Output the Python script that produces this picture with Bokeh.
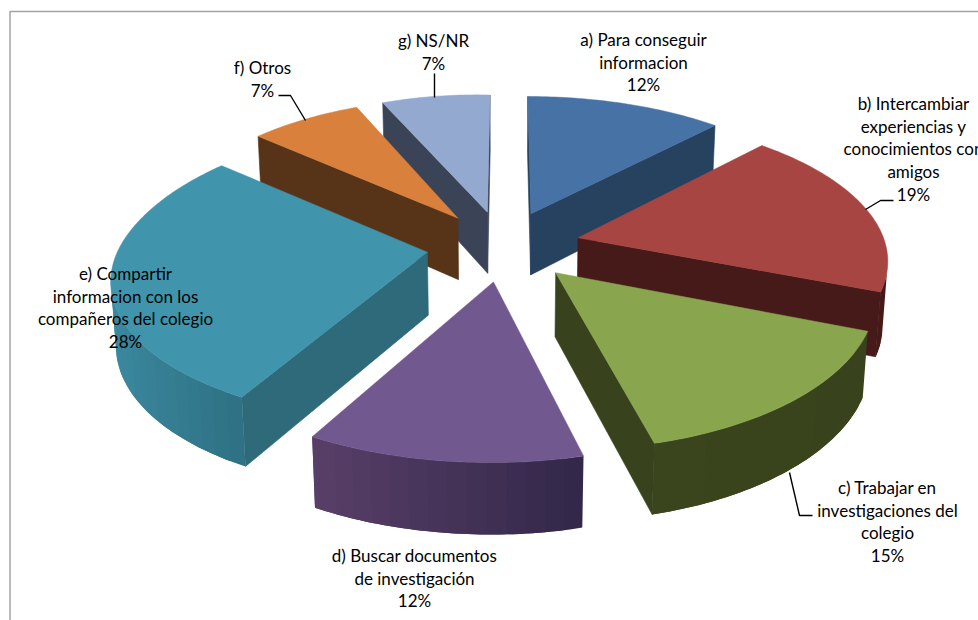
import math
from bokeh.plotting import figure
from bokeh.models import Range1d
from bokeh.core.properties import value
from bokeh.embed import file_html
from bokeh.resources import INLINE

# ---- data ----
names = [
    ["a) Para conseguir", "informacion"],
    ["b) Intercambiar", "experiencias y", "conocimientos con", "amigos"],
    ["c) Trabajar en", "investigaciones del", "colegio"],
    ["d) Buscar documentos", "de investigación"],
    ["e) Compartir", "informacion con los", "compañeros del colegio"],
    ["f) Otros"],
    ["g) NS/NR"],
]
percent = [12, 19, 15, 12, 28, 7, 7]

# ---- styles ----
top_colors = ["#4672A6", "#A64542", "#89A54E", "#71588F", "#4095AD", "#D8803C", "#93A9CF"]
side_colors = ["#27425F", "#451A19", "#38431D", "#3A2C50", "#2E6A7A", "#573318", "#3B4356"]
arc_left = ["#27425F", "#451A19", "#3A451D", "#5A4069", "#3D8CA2", "#573318", "#3B4356"]
arc_right = ["#27425F", "#451A19", "#38431D", "#33284A", "#2F7286", "#573318", "#3B4356"]
draw_order = [6, 0, 5, 1, 4, 2, 3]

# ---- projection parameters ----
CX, CY, SX, SY = 503.0, 245.0, 307.7, 141.0
PERSP, EXPLODE, WALL, SHRINK = 0.135, 0.25, 63.5, 0.013
SKEW_X, SKEW_Y, FRONT, FRONT_X = 13.0, 4.5, 3.5, 9.0

# ---- label layout: centre x, first line y ----
label_pos = [(643, 39), (913, 103), (887, 487), (414, 555), (125, 273), (262, 67), (433, 40)]
LINE_H = 22.7
leaders = [
    ([278, 290, 305], [95, 95, 120]),
    ([434, 434], [73, 97]),
    ([865, 880, 893], [209, 200, 200]),
    ([789, 799, 812], [472, 515, 515]),
]


def project(x, y, bottom=False):
    w = 1 + PERSP * y + (SHRINK if bottom else 0)
    sx = CX + SX * x / w + SKEW_X * max(0, -x) * max(0, y) - FRONT_X * max(0, -x) * max(0, -y)
    sy = CY - SY * y / w + SKEW_Y * min(0, x) * max(0, y) + FRONT * min(0, y) ** 2
    if bottom:
        sy += WALL / w
    return sx, sy


def mix(c1, c2, t):
    a = [int(c1[i:i + 2], 16) for i in (1, 3, 5)]
    b = [int(c2[i:i + 2], 16) for i in (1, 3, 5)]
    return "#%02x%02x%02x" % tuple(round(p + (q - p) * t) for p, q in zip(a, b))


def quad(p1, p2):
    a, b = project(*p1), project(*p2)
    c, d = project(*p2, True), project(*p1, True)
    return [a[0], b[0], c[0], d[0]], [a[1], b[1], c[1], d[1]]


def area(xs, ys):
    return sum(xs[i] * ys[(i + 1) % len(xs)] - xs[(i + 1) % len(xs)] * ys[i] for i in range(len(xs)))


total = sum(percent)
starts = [sum(percent[:i]) / total * 360 for i in range(len(percent))]

p = figure(width=978, height=620, output_backend="svg", toolbar_location=None,
           x_range=Range1d(0, 978), y_range=Range1d(620, 0),
           x_axis_location=None, y_axis_location=None, min_border=0, tools="")
p.grid.visible = False
p.outline_line_color = None
p.background_fill_color = "#ffffff"
p.border_fill_color = "#ffffff"

# frame
p.line([9.5, 9.5, 978], [620, 11, 11], line_color="#A3A3A3", line_width=1.5)

for i in draw_order:
    a0 = math.radians(starts[i])
    a1 = math.radians(starts[i] + percent[i] / total * 360)
    mid = (a0 + a1) / 2
    ox, oy = EXPLODE * math.sin(mid), EXPLODE * math.cos(mid)
    n = max(2, int(math.degrees(a1 - a0)))
    angs = [a0 + (a1 - a0) * k / n for k in range(n + 1)]
    rim = [(ox + math.sin(t), oy + math.cos(t)) for t in angs]
    apex = (ox, oy)
    rx = [q[0] for q in rim]
    xmin, xmax = min(rx), max(rx)

    # radial walls, kept only when they face the viewer
    wx, wy, wc = [], [], []
    for q1, q2 in ((apex, rim[0]), (rim[-1], apex)):
        xs, ys = quad(q1, q2)
        if area(xs, ys) < 0:
            wx.append(xs); wy.append(ys); wc.append(side_colors[i])
    if wx:
        p.patches(wx, wy, fill_color=wc, line_color=wc, line_width=0.6)

    # rounded wall: overlapping bands, each painted over the previous
    bx, by, bc = [], [], []
    for k in range(0, n, 3):
        xs, ys = quad(rim[k], rim[k + 1])
        if area(xs, ys) < 0:
            end = min(k + 6, n)
            pts = rim[k:end + 1]
            top = [project(*q) for q in pts]
            bot = [project(*q, True) for q in reversed(pts)]
            t = (rim[k][0] - xmin) / (xmax - xmin)
            bx.append([q[0] for q in top + bot])
            by.append([q[1] for q in top + bot])
            bc.append(mix(arc_left[i], arc_right[i], t))
    if bx:
        p.patches(bx, by, fill_color=bc, line_color=None)

    tx, ty = zip(*[project(*q) for q in [apex] + rim])
    p.patch(list(tx), list(ty), fill_color=top_colors[i], line_color=top_colors[i], line_width=0.5)

for lx, ly in leaders:
    p.line(lx, ly, line_color="#000000", line_width=1.4)

tx, ty, tt = [], [], []
for i, lines in enumerate(names):
    cx, y0 = label_pos[i]
    for j, s in enumerate(lines + [f"{percent[i]}%"]):
        tx.append(cx); ty.append(y0 + j * LINE_H); tt.append(s)
p.text(tx, ty, text=tt, text_font=value("Lato"), text_font_size="17px", text_color="#000000",
       text_align="center", text_baseline="middle")

open("out.html", "w").write(file_html(p, INLINE))
